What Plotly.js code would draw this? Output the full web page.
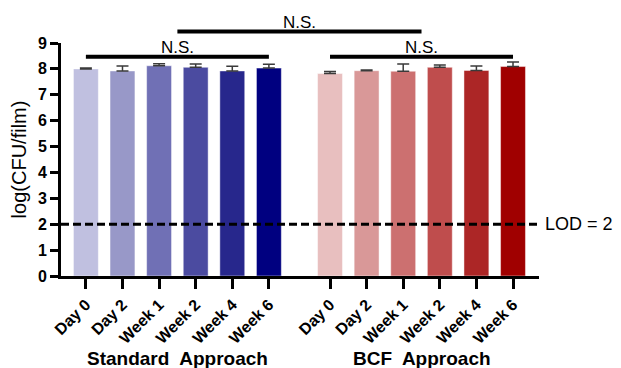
<!DOCTYPE html>
<html>
<head>
<meta charset="utf-8">
<script src="https://cdn.plot.ly/plotly-3.0.1.min.js"></script>
<style>html,body{margin:0;padding:0;background:#fff;}#chart{width:621px;height:368px;}</style>
</head>
<body>
<div id="chart"></div>
<script>
// ---- data ----
const timepoints = ["Day 0", "Day 2", "Week 1", "Week 2", "Week 4", "Week 6"];
const standardValues = [8.00, 7.92, 8.12, 8.06, 7.92, 8.03];
const standardErrors = [0.03, 0.19, 0.08, 0.13, 0.18, 0.15];
const bcfValues = [7.82, 7.93, 7.91, 8.06, 7.94, 8.09];
const bcfErrors = [0.08, 0.03, 0.28, 0.09, 0.17, 0.18];
const groupLabels = ["Standard  Approach", "BCF  Approach"];
const lod = 2;
const sigLabel = "N.S.";

// ---- styling ----
const standardColors = ["#c0c0e0", "#9898c8", "#7070b5", "#4b4ba0", "#27278c", "#000080"];
const bcfColors = ["#e8bfbf", "#d99898", "#cc7070", "#bf4d4d", "#ac2626", "#a00000"];
const groupOffset = 6.67;
const FONT = "Arial, 'Liberation Sans', sans-serif";
const yMax = 9;

const xStd = timepoints.map((_, i) => i);
const xBcf = timepoints.map((_, i) => i + groupOffset);

function barTrace(x, y, err, colors) {
  return {
    type: 'bar', x: x, y: y, width: 0.68,
    marker: {color: colors, line: {color: 'rgba(255,255,255,0.45)', width: 1}},
    error_y: {type: 'data', array: err, arrayminus: err.map(() => 0), symmetric: false,
              color: '#3a3a3a', thickness: 1.5, width: 6},
    hoverinfo: 'skip', showlegend: false
  };
}

const data = [barTrace(xStd, standardValues, standardErrors, standardColors),
              barTrace(xBcf, bcfValues, bcfErrors, bcfColors)];

const stdMid = (xStd[0] + xStd[5]) / 2;
const bcfMid = (xBcf[0] + xBcf[5]) / 2;
const pv = v => v / yMax; // value -> paper y

const lowBar = 8.47, highBar = 9.44;
const shapes = [
  {type: 'line', xref: 'paper', yref: 'y', x0: 0, x1: 1, y0: lod, y1: lod,
   line: {color: '#000', width: 3, dash: '8px,4px'}},
  {type: 'line', xref: 'x', yref: 'paper', x0: xStd[0], x1: xStd[5], y0: pv(lowBar), y1: pv(lowBar),
   line: {color: '#000', width: 4}},
  {type: 'line', xref: 'x', yref: 'paper', x0: xBcf[0], x1: xBcf[5], y0: pv(lowBar), y1: pv(lowBar),
   line: {color: '#000', width: 4}},
  {type: 'line', xref: 'x', yref: 'paper', x0: (xStd[2] + xStd[3]) / 2, x1: (xBcf[2] + xBcf[3]) / 2,
   y0: pv(highBar), y1: pv(highBar), line: {color: '#000', width: 4}}
];

const annotations = [
  {xref: 'x', yref: 'paper', x: stdMid, y: pv(lowBar), yanchor: 'bottom', yshift: -2, text: sigLabel,
   showarrow: false, font: {family: FONT, size: 17, color: '#000'}},
  {xref: 'x', yref: 'paper', x: bcfMid, y: pv(lowBar), yanchor: 'bottom', yshift: -2, text: sigLabel,
   showarrow: false, font: {family: FONT, size: 17, color: '#000'}},
  {xref: 'x', yref: 'paper', x: ((xStd[2] + xStd[3]) / 2 + (xBcf[2] + xBcf[3]) / 2) / 2, y: pv(highBar),
   yanchor: 'bottom', yshift: -2, text: sigLabel, showarrow: false, font: {family: FONT, size: 17, color: '#000'}},
  {xref: 'paper', yref: 'y', x: 1, y: lod, xanchor: 'left', yanchor: 'middle', xshift: 4,
   text: 'LOD = ' + lod, showarrow: false, font: {family: FONT, size: 18, color: '#000'}},
  {xref: 'x', yref: 'paper', x: stdMid, y: 0, yanchor: 'middle', yshift: -82, text: '<b>' + groupLabels[0] + '</b>',
   showarrow: false, font: {family: FONT, size: 19, color: '#000'}},
  {xref: 'x', yref: 'paper', x: bcfMid, y: 0, yanchor: 'middle', yshift: -82, text: '<b>' + groupLabels[1] + '</b>',
   showarrow: false, font: {family: FONT, size: 19, color: '#000'}}
];

const layout = {
  width: 621, height: 368,
  margin: {l: 61, r: 82, t: 43, b: 92},
  paper_bgcolor: '#fff', plot_bgcolor: '#fff',
  showlegend: false,
  font: {family: FONT, color: '#000'},
  xaxis: {
    range: [-0.68, 12.38],
    tickvals: xStd.concat(xBcf),
    ticktext: timepoints.concat(timepoints).map(t => '<b>' + t + '</b>'),
    tickangle: -45, tickfont: {family: FONT, size: 16, color: '#000'},
    ticks: 'outside', ticklen: 10, tickwidth: 3, tickcolor: '#000',
    showline: true, linewidth: 3, linecolor: '#000',
    showgrid: false, zeroline: false
  },
  yaxis: {
    range: [0, yMax], dtick: 1, tick0: 0,
    tickfont: {family: FONT, size: 16, color: '#000'},
    tickprefix: '<b>', ticksuffix: '</b>',
    ticks: 'outside', ticklen: 8, tickwidth: 3, tickcolor: '#000',
    showline: true, linewidth: 3, linecolor: '#000',
    showgrid: false, zeroline: false,
    title: {text: 'log(CFU/film)', font: {family: FONT, size: 20, color: '#000'}, standoff: 6}
  },
  shapes: shapes,
  annotations: annotations
};

Plotly.newPlot('chart', data, layout, {displayModeBar: false, staticPlot: true});
</script>
</body>
</html>
